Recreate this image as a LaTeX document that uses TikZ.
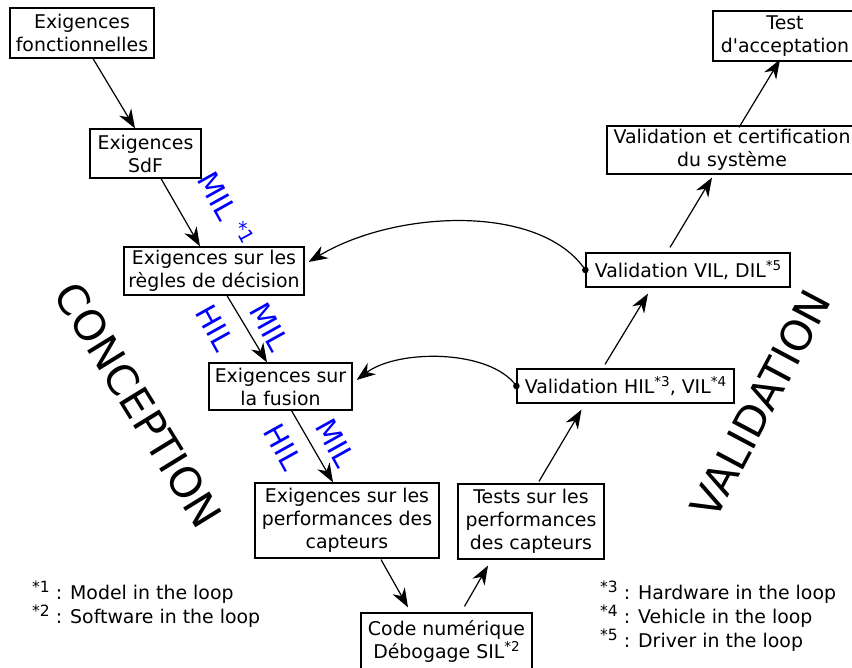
\documentclass[tikz,border=0pt]{standalone}
\usepackage{fontspec}
\setmainfont{DejaVu Sans}
\usetikzlibrary{arrows.meta,calc}
\newcommand\lsup[1]{\raisebox{6.5pt}{\fontsize{15.5}{15.5}\selectfont #1}}
\newcommand\bsup[1]{\raisebox{7pt}{\fontsize{13.5}{13.5}\selectfont #1}}
\newcommand\msup[1]{\raisebox{9pt}{\fontsize{19}{19}\selectfont #1}}
\begin{document}
\begin{tikzpicture}[x=1pt,y=-1pt, font=\fontsize{18.9}{23}\selectfont,
  box/.style={draw, line width=1.2pt, inner sep=0pt, align=center},
  arr/.style={line width=1.2pt, -{Stealth[length=19pt,width=14pt,inset=6pt]}},
  lbl/.style={text=blue, font=\fontsize{29}{29}\selectfont, rotate=-61, inner sep=0pt},
  big/.style={font=\fontsize{42}{42}\selectfont, inner sep=0pt},
  leg/.style={anchor=base west, inner sep=0pt}]
\useasboundingbox (0,0) rectangle (852,668);
\clip (0,0) rectangle (852,668);

\node[box, minimum width=144pt, minimum height=50pt] (fonc) at (82,33) {Exigences\\fonctionnelles};
\node[box, minimum width=111pt, minimum height=49pt] (sdf) at (145.5,153.5) {Exigences\\SdF};
\node[box, minimum width=180pt, minimum height=48pt] (regles) at (214,271) {Exigences sur les\\règles de décision};
\node[box, minimum width=143pt, minimum height=47pt] (fusion) at (280.5,386.5) {Exigences sur\\la fusion};
\node[box, minimum width=184pt, minimum height=75pt] (capt) at (347,520.5) {Exigences sur les\\performances des\\capteurs};
\node[box, minimum width=171pt, minimum height=57pt] (code) at (446.5,641.5) {Code numérique\\Débogage SIL\bsup{*2}};
\node[box, minimum width=146pt, minimum height=75pt] (tests) at (531,521.5) {Tests sur les\\performances\\des capteurs};
\node[box, minimum width=217pt, minimum height=34pt] (vhil) at (625.5,386) {Validation HIL\bsup{*3}, VIL\bsup{*4}};
\node[box, minimum width=204pt, minimum height=34pt] (vvil) at (688,270) {Validation VIL, DIL\bsup{*5}};
\node[box, minimum width=250pt, minimum height=48pt] (cert) at (732,150) {Validation et certification\\du système};
\node[box, minimum width=144pt, minimum height=50pt] (acc) at (785,36) {Test\\d\textquotesingle acceptation};

\draw[arr] ([xshift=11pt]fonc.south) -- ([xshift=-10.5pt]sdf.north);
\draw[arr] ([xshift=15.5pt]sdf.south) -- ([xshift=-14pt]regles.north);
\draw[arr] ([xshift=13pt]regles.south) -- ([xshift=-13.5pt]fusion.north);
\draw[arr] ([xshift=11pt]fusion.south) -- ([xshift=-14pt]capt.north);
\draw[arr] ([shift={(34,1)}]capt.south) -- ([shift={(-38.5,-5)}]code.north);
\draw[arr] ([shift={(18,-6)}]code.north) -- ([shift={(-43,6)}]tests.south);
\draw[arr] ([shift={(8,-2)}]tests.north) -- ([shift={(-44,6)}]vhil.south);
\draw[arr] ([shift={(-20.5,-4)}]vhil.north) -- ([shift={(-40,6)}]vvil.south);
\draw[arr] ([shift={(-18,-5)}]vvil.north) -- ([shift={(-20,3)}]cert.south);
\draw[arr] ([shift={(7,2)}]cert.north) -- ([shift={(-5,-2)}]acc.south);

\fill (vvil.west) circle (3.3pt);
\draw[arr] (vvil.west) .. controls (540,203) and (395,210) .. ([shift={(4,-9)}]regles.east);
\fill (vhil.west) circle (3.3pt);
\draw[arr] (vhil.west) .. controls (490,349) and (398,349) .. ([shift={(4,-6.5)}]fusion.east);

\node[lbl] (mil1) at (226,209) {MIL \msup{*1}};
\node[lbl] (hil1) at (215,328) {HIL};
\node[lbl] (mil2) at (270,327) {MIL};
\node[lbl] (hil2) at (283,447) {HIL};
\node[lbl] (mil3) at (336,443) {MIL};

\node[big, rotate=-58.4] (conc) at (138.5,405) {CONCEPTION};
\node[big, rotate=62] (valid) at (760.5,404) {VALIDATION};

\node[leg] (l1) at (32,599) {\lsup{*1} : Model in the loop};
\node[leg] (l2) at (32,623) {\lsup{*2} : Software in the loop};
\node[leg] (l3) at (600,599) {\lsup{*3} : Hardware in the loop};
\node[leg] (l4) at (600,623) {\lsup{*4} : Vehicle in the loop};
\node[leg] (l5) at (600,647) {\lsup{*5} : Driver in the loop};
\end{tikzpicture}
\end{document}
